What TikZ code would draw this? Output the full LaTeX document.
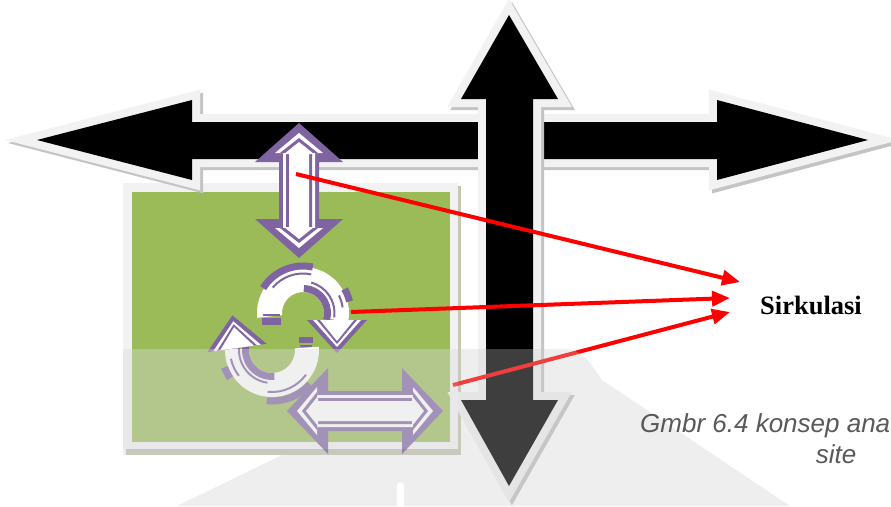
\documentclass[tikz,border=0pt]{standalone}
\usepackage{fontspec}
\setmainfont{Liberation Serif}
\newfontfamily\capfont{Liberation Sans}
\usetikzlibrary{arrows.meta,calc}

\definecolor{purp}{RGB}{128,100,162}
\definecolor{leaf}{RGB}{155,187,89}
\definecolor{rim}{RGB}{242,242,242}
\definecolor{dropgray}{RGB}{196,196,196}
\definecolor{boxshade}{RGB}{196,201,180}
\definecolor{veil}{RGB}{203,203,203}
\definecolor{captext}{RGB}{89,89,89}

% block arrows (pixel grid, y pointing down)
\newcommand\blockarrowH{(37,140) -- (192,100) -- (192,122) -- (717,122) -- (717,100) -- (868,140) -- (717,180) -- (717,159) -- (192,159) -- (192,180) -- cycle}
\newcommand\blockarrowV{(509,15) -- (558,99) -- (533,99) -- (533,400) -- (558,400) -- (509,486) -- (461,400) -- (486,400) -- (486,99) -- (461,99) -- cycle}
% double-headed arrow centred at the origin: half length, head length, head half-width, shaft half-width
\newcommand\dbl[4]{(-#1,0) -- ({-#1+#2},{-#3}) -- ({-#1+#2},{-#4}) -- ({#1-#2},{-#4}) -- ({#1-#2},{-#3}) -- (#1,0) -- ({#1-#2},#3) -- ({#1-#2},#4) -- ({-#1+#2},#4) -- ({-#1+#2},#3) -- cycle}
% arrowhead triangle: base half-width, height (tip points up)
\newcommand\tri[2]{(-#1,0) -- (#1,0) -- (0,-#2) -- cycle}
% annulus sector: centre, inner radius, outer radius, start, end
\newcommand\ring[5]{($(#1)+(#4:#3)$) arc[start angle=#4, end angle=#5, radius=#3] -- ($(#1)+(#5:#2)$) arc[start angle=#5, end angle=#4, radius=#2] -- cycle}
% circular stroke: centre, radius, start, end
\newcommand\band[4]{($(#1)+(#3:#2)$) arc[start angle=#3, end angle=#4, radius=#2]}
% layered outline arrowhead
\newcommand\headlayers{%
  \fill[purp] \tri{30}{33};
  \fill[white] \tri{24}{27};
  \fill[purp] \tri{20}{24};
  \fill[white] \tri{17}{21};}

\tikzset{
  redline/.style={draw=red, line width=4pt, -{Triangle[length=18pt,width=15pt]}},
  sirkfont/.style={font=\bfseries\fontsize{26.5}{30}\selectfont},
  capstyle/.style={font=\capfont\itshape\fontsize{26}{30}\selectfont, text=captext, inner sep=0pt},
  dropshadow/.style={fill=dropgray, draw=dropgray, line width=16pt, shift={(3,3)}},
  rimline/.style={fill=rim, draw=rim, line width=16pt}
}

\begin{document}
\begin{tikzpicture}[x=1pt,y=-1pt,line join=miter]
\useasboundingbox (0,0) rectangle (891,506);
\clip (0,0) rectangle (891,506);
\fill[white] (0,0) rectangle (891,506);

% site panel
\fill[boxshade] (126,186) rectangle (461,455);
\fill[rim] (123,183) rectangle (458,449);
\fill[leaf] (132,192) rectangle (450,442);

% horizontal black road arrow
\path[dropshadow] \blockarrowH;
\path[rimline] \blockarrowH;
\fill[black] \blockarrowH;

% vertical black road arrow
\path[dropshadow] \blockarrowV;
\path[rimline] \blockarrowV;
\fill[black] \blockarrowV;

% vertical purple double arrow
\begin{scope}[shift={(299,190.5)}, rotate=90]
  \fill[purp] \dbl{67.5}{39}{44}{20};
  \fill[white] \dbl{57.5}{20}{24}{16};
  \fill[purp] \dbl{52.5}{15}{19}{13};
  \fill[white] \dbl{48.5}{12}{15}{10};
\end{scope}

% circulation loop, upper half
\coordinate (c1) at (303,313);
\fill[white] \ring{c1}{21}{46}{174}{372};
\draw[purp, line width=7pt] \band{c1}{47}{212}{282};
\draw[purp, line width=2pt] \band{c1}{39.5}{220}{282};
\draw[purp, line width=7pt] \band{c1}{48}{330}{346};
\draw[purp, line width=2pt] \band{c1}{40}{334}{352};
\draw[purp, line width=7pt] \band{c1}{24.5}{272}{376};
\draw[purp, line width=2pt] \band{c1}{31.5}{285}{368};
\fill[purp] (262,318) rectangle (281,325);
\draw[purp, line width=1.5pt] (263,315) -- (280,315);
\begin{scope}[shift={(337,320)}, rotate=180]
  \headlayers
\end{scope}

% circulation loop, lower half
\coordinate (c2) at (272,350);
\fill[white] \ring{c2}{23}{47}{-4}{182};
\draw[purp, line width=7pt] \band{c2}{51}{42}{96};
\draw[purp, line width=2pt] \band{c2}{42}{36}{96};
\draw[purp, line width=7pt] \band{c2}{50.5}{146}{160};
\draw[purp, line width=2pt] \band{c2}{42}{142}{168};
\draw[purp, line width=7pt] \band{c2}{26.5}{85}{198};
\draw[purp, line width=2pt] \band{c2}{33}{98}{188};
\fill[purp] (299,337) rectangle (313,343);
\draw[purp, line width=1.5pt] (300,346) -- (312,346);
\begin{scope}[shift={(237,348)}, rotate=8]
  \headlayers
\end{scope}

% horizontal purple double arrow
\begin{scope}[shift={(365,411)}]
  \fill[purp] \dbl{78}{41}{43}{20};
  \fill[white] \dbl{68}{20}{24}{16};
  \fill[purp] \dbl{63}{15}{19}{13};
  \fill[white] \dbl{59}{12}{15}{10};
\end{scope}

% red pointers
\coordinate (a1) at (296,174);
\coordinate (a2) at (351,312);
\coordinate (a3) at (453,385);
\coordinate (t1) at (740,282);
\coordinate (t2) at (730,298);
\coordinate (t3) at (730,312);
\draw[redline] (a1) -- (t1);
\draw[redline] (a2) -- (t2);
\draw[redline] (a3) -- (t3);

% faint grey backdrop shape
\fill[veil, fill opacity=0.31] (123,349) -- (565,349) .. controls (582,349) and (592,365) .. (602,380) -- (790,506) -- (177,506) -- (282,455) -- (123,455) -- cycle;
\fill[white, fill opacity=0.12] (123,349) rectangle (458,449);
\draw[white, line width=7pt, line cap=round] (400,486) -- (400,510);

% labels
\node[sirkfont, anchor=base] (sirk) at (811,314) {Sirkulasi};
\node[capstyle, anchor=base west] (cap1) at (640,432) {Gmbr 6.4 konsep ana};
\node[capstyle, anchor=base] (cap2) at (836,463) {site};
\end{tikzpicture}
\end{document}
